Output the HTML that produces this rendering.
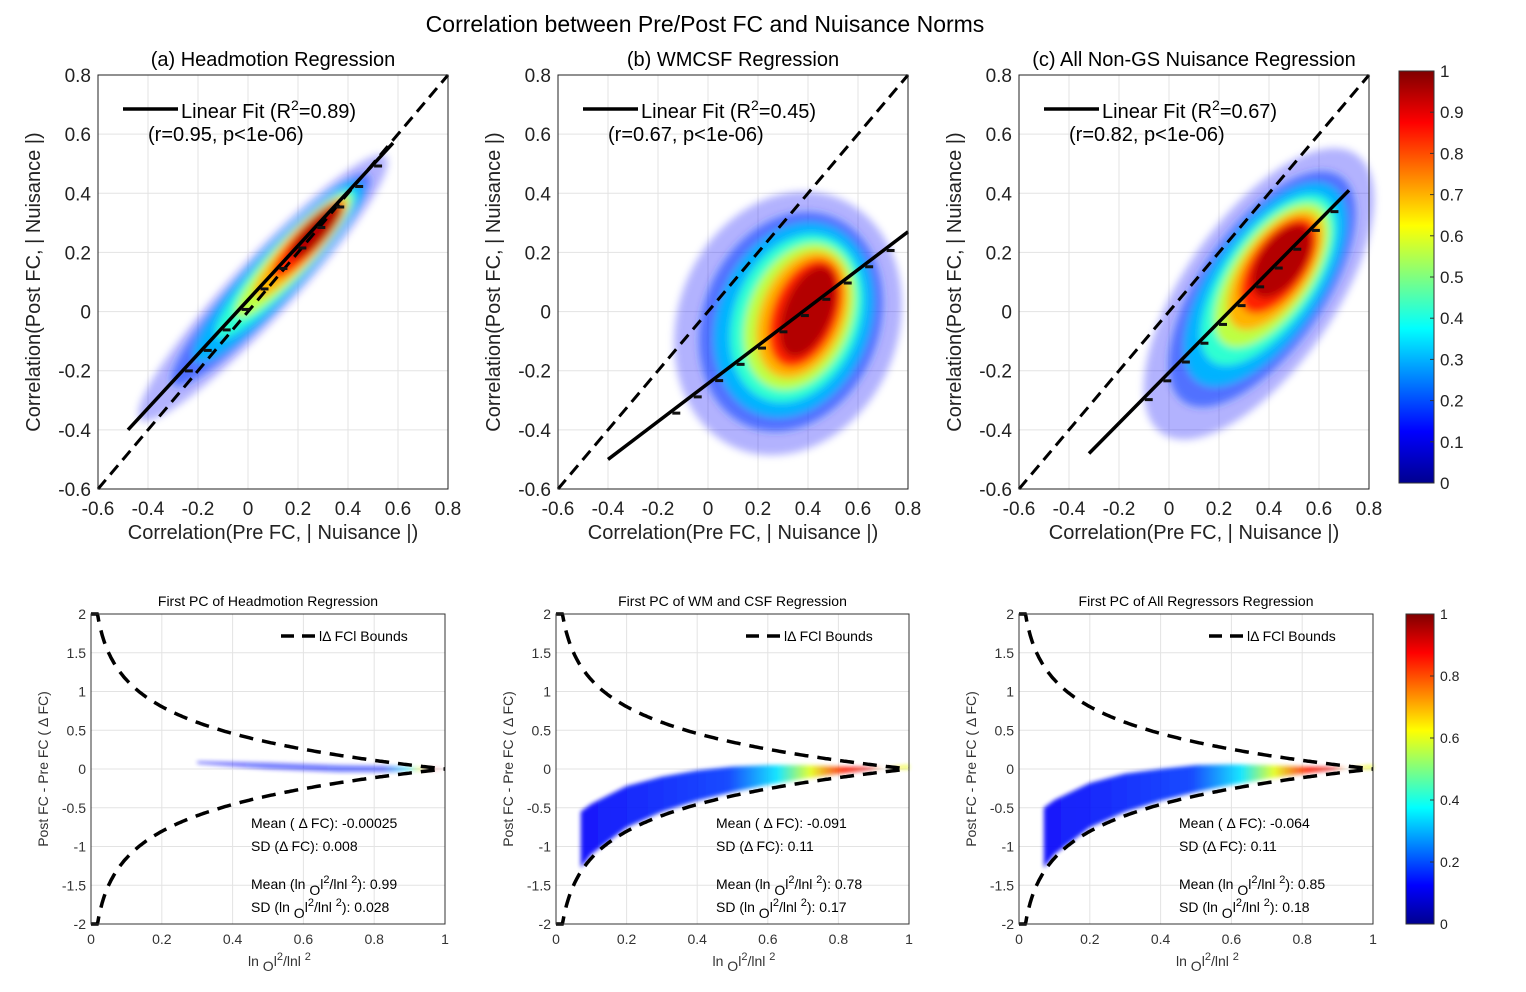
<!DOCTYPE html>
<html><head><meta charset="utf-8"><style>
body{margin:0;background:#fff;}
svg{display:block;font-family:"Liberation Sans",sans-serif;}
</style></head><body>
<svg id="fig" width="1526" height="992" viewBox="0 0 1526 992" xmlns="http://www.w3.org/2000/svg">
<defs>
<filter id="blur" x="-30%" y="-30%" width="160%" height="160%"><feGaussianBlur stdDeviation="4"/></filter>
<filter id="blur2" x="-30%" y="-30%" width="160%" height="160%"><feGaussianBlur stdDeviation="2"/></filter>
<linearGradient id="jetV" x1="0" y1="1" x2="0" y2="0">
<stop offset="0" stop-color="#00008f"/><stop offset="0.125" stop-color="#0000ff"/><stop offset="0.375" stop-color="#00ffff"/><stop offset="0.625" stop-color="#ffff00"/><stop offset="0.875" stop-color="#ff0000"/><stop offset="1" stop-color="#800000"/>
</linearGradient>
</defs>
<text x="705" y="32" font-size="23" text-anchor="middle">Correlation between Pre/Post FC and Nuisance Norms</text>
<g id="layer"></g>
</svg>
<script>
// ---------- data ----------
const topTitles = ["(a) Headmotion Regression","(b) WMCSF Regression","(c) All Non-GS Nuisance Regression"];
const r2Values = ["0.89","0.45","0.67"];
const rValues = ["0.95","0.67","0.82"];
const fitX0 = [-0.48,-0.40,-0.32];
const fitY0 = [-0.40,-0.50,-0.48];
const fitX1 = [0.58,0.80,0.72];
const fitY1 = [0.57,0.27,0.41];
const cloudCX = [0.06,0.32,0.36];
const cloudCY = [0.08,-0.04,0.06];
const coreCX = [0.27,0.40,0.45];
const coreCY = [0.27,0.00,0.17];
const topTicks = [-0.6,-0.4,-0.2,0,0.2,0.4,0.6,0.8];
const botTitles = ["First PC of Headmotion Regression","First PC of WM and CSF Regression","First PC of All Regressors Regression"];
const meanDFC = ["-0.00025","-0.091","-0.064"];
const sdDFC = ["0.008","0.11","0.11"];
const meanRatio = ["0.99","0.78","0.85"];
const sdRatio = ["0.028","0.17","0.18"];
const bandX = [0.07,0.1,0.2,0.3,0.4,0.5,0.6,0.7,0.8,0.9,1.0];
const bandTopB = [-0.55,-0.45,-0.22,-0.1,-0.02,0.03,0.05,0.05,0.03,0.02,0];
const bandTopC = [-0.5,-0.4,-0.18,-0.06,0.0,0.05,0.06,0.05,0.03,0.02,0];
const bandStartA = 0.3;
const botXTicks = [0,0.2,0.4,0.6,0.8,1];
const botYTicks = [-2,-1.5,-1,-0.5,0,0.5,1,1.5,2];
const cbTopTicks = [0,0.1,0.2,0.3,0.4,0.5,0.6,0.7,0.8,0.9,1];
const cbBotTicks = [0,0.2,0.4,0.6,0.8,1];

// ---------- layout ----------
const NS="http://www.w3.org/2000/svg";
const layer=document.getElementById('layer');
function mk(tag,attrs,parent){const e=document.createElementNS(NS,tag);for(const k in attrs)e.setAttribute(k,attrs[k]);(parent||layer).appendChild(e);return e;}
function jet(v){
  const st=[[0,[0,0,143]],[0.125,[0,0,255]],[0.375,[0,255,255]],[0.625,[255,255,0]],[0.875,[255,0,0]],[1,[128,0,0]]];
  for(let i=1;i<st.length;i++){if(v<=st[i][0]){const a=st[i-1],b=st[i],t=(v-a[0])/(b[0]-a[0]);
    return 'rgb('+a[1].map((c,j)=>Math.round(c+(b[1][j]-c)*t)).join(',')+')';}}
  return 'rgb(128,0,0)';
}
const topX0=[98,558,1019], topW=350, topY0=75, topH=414;
const cloudA=[[180,30,36,11],[135,110,48,24],[170,75,42,22]];
const cloudAng=[-47,-68,-55];
const levels=[0.12,0.18,0.3,0.42,0.56,0.7,0.84,0.95];
const levelOp=[0.3,0.55,1,1,1,1,1,1];

for(let p=0;p<3;p++){
  const g=mk('g',{});
  
  
  const x0=topX0[p];
  const sx=v=>x0+(v+0.6)/1.4*topW, sy=v=>topY0+topH-(v+0.6)/1.4*topH;
  topTicks.forEach(t=>{
    mk('line',{x1:sx(t),x2:sx(t),y1:topY0,y2:topY0+topH,stroke:'#e3e3e3','stroke-width':1},g);
    mk('line',{x1:x0,x2:x0+topW,y1:sy(t),y2:sy(t),stroke:'#e3e3e3','stroke-width':1},g);
    const xl=mk('text',{x:sx(t),y:topY0+topH+26,'font-size':19,'text-anchor':'middle',fill:'#222'},g);xl.textContent=(t===0?'0':t.toFixed(1));
    
    const yl=mk('text',{x:x0-7,y:sy(t)+7,'font-size':19,'text-anchor':'end',fill:'#222'},g);yl.textContent=(t===0?'0':t.toFixed(1));
    
  });
  const cg=mk('g',{filter:'url(#blur)'},g);
  const [oa,ob,ca,cb]=cloudA[p];
  levels.forEach((lv,i)=>{
    const t=i/(levels.length-1);
    const cx=sx(cloudCX[p]+(coreCX[p]-cloudCX[p])*t), cy=sy(cloudCY[p]+(coreCY[p]-cloudCY[p])*t);
    const a=oa+(ca-oa)*Math.pow(t,0.7), b=ob+(cb-ob)*Math.pow(t,0.7);
    const e=mk('ellipse',{cx:cx,cy:cy,rx:a,ry:b,fill:jet(lv),transform:`rotate(${cloudAng[p]} ${cx} ${cy})`,opacity:levelOp[i]},cg);
    
  });
  const d=mk('line',{x1:sx(-0.6),y1:sy(-0.6),x2:sx(0.8),y2:sy(0.8),stroke:'#000','stroke-width':3,'stroke-dasharray':'12 7'},g);
  
  const f=mk('line',{x1:sx(fitX0[p]),y1:sy(fitY0[p]),x2:sx(fitX1[p]),y2:sy(fitY1[p]),stroke:'#000','stroke-width':3.5},g);
  
  const slope=(fitY1[p]-fitY0[p])/(fitX1[p]-fitX0[p]);
  for(let k=3;k<14;k++){const xv=fitX0[p]+(fitX1[p]-fitX0[p])*k/14;const yv=fitY0[p]+slope*(xv-fitX0[p]);
    const s=mk('rect',{x:sx(xv),y:sy(yv)+1,width:8,height:3,fill:'#111'},g);}
  mk('rect',{x:x0,y:topY0,width:topW,height:topH,fill:'none',stroke:'#222','stroke-width':1},g);
  const tt=mk('text',{x:x0+topW/2,y:66,'font-size':20,'text-anchor':'middle'},g);tt.textContent=topTitles[p];
  
  const lg=mk('line',{x1:x0+25,x2:x0+80,y1:109,y2:109,stroke:'#000','stroke-width':3.5},g);
  
  const l1=mk('text',{x:x0+83,y:118,'font-size':20},g);
  l1.innerHTML='Linear Fit (R<tspan dy="-8" font-size="14">2</tspan><tspan dy="8">='+r2Values[p]+')</tspan>';
  
  const l2=mk('text',{x:x0+50,y:141,'font-size':20},g);l2.textContent='(r='+rValues[p]+', p<1e-06)';
  
  const xt=mk('text',{x:x0+topW/2,y:539,'font-size':20,'text-anchor':'middle',fill:'#222'},g);xt.textContent='Correlation(Pre FC, | Nuisance |)';
  
  const yt=mk('text',{x:0,y:0,'font-size':20,'text-anchor':'middle',fill:'#222',transform:`translate(${x0-58},${topY0+topH/2}) rotate(-90)`},g);yt.textContent='Correlation(Post FC, | Nuisance |)';
  
}

// ---------- bottom ----------
const botX0=[91,556,1019], botW=[354,353,354], botY0=614, botH=310;
const bound=x=>Math.min(2,-0.5*Math.log(Math.max(x,1e-4)));
for(let p=0;p<3;p++){
  const g=mk('g',{});
  
  
  const x0=botX0[p], W=botW[p];
  const sx=v=>x0+v*W, sy=v=>botY0+botH/2-v*botH/4;
  botXTicks.forEach(t=>{
    mk('line',{x1:sx(t),x2:sx(t),y1:botY0,y2:botY0+botH,stroke:'#e3e3e3'},g);
    const l=mk('text',{x:sx(t),y:botY0+botH+20,'font-size':14,'text-anchor':'middle',fill:'#333'},g);l.textContent=String(t);
    
  });
  botYTicks.forEach(t=>{
    mk('line',{x1:x0,x2:x0+W,y1:sy(t),y2:sy(t),stroke:'#e3e3e3'},g);
    const l=mk('text',{x:x0-5,y:sy(t)+5,'font-size':14,'text-anchor':'end',fill:'#333'},g);l.textContent=String(t);
    
  });
  const grad=mk('linearGradient',{id:'bg'+p,x1:0,x2:1,y1:0,y2:0},document.querySelector('defs'));
  const stops=p===0?[[0,0.12],[0.75,0.15],[0.85,0.35],[0.9,0.6],[0.95,0.9],[1,0.9]]:[[0,0.12],[0.45,0.18],[0.6,0.35],[0.7,0.6],[0.8,0.85],[0.88,0.9],[0.95,0.65],[1,0.6]];
  stops.forEach(s=>mk('stop',{offset:s[0],'stop-color':jet(s[1])},grad));
  if(p===0){
    const xs=[bandStartA,0.5,0.7,0.85,1];
    const up=[0.1,0.08,0.05,0.04,0], lo=[0.07,0.0,-0.04,-0.04,0];
    let d='M'+xs.map((x,i)=>sx(x)+','+sy(up[i])).join('L')+'L'+xs.slice().reverse().map((x,i)=>sx(x)+','+sy(lo[xs.length-1-i])).join('L')+'Z';
    const b=mk('path',{d:d,fill:'url(#bg0)',opacity:0.55,filter:'url(#blur2)'},g);
  } else {
    const top=p===1?bandTopB:bandTopC;
    let d='M'+bandX.map((x,i)=>sx(x)+','+sy(top[i])).join('L');
    for(let i=bandX.length-1;i>=0;i--){const x=bandX[i];d+='L'+sx(x)+','+sy(-bound(x)+0.05);}
    d+='Z';
    const b=mk('path',{d:d,fill:'url(#bg'+p+')',filter:'url(#blur2)',opacity:0.9},g);
  }
  let du='',dl='';
  for(let i=0;i<=200;i++){const x=Math.pow(i/200,1.6);const y=bound(x);du+=(i?'L':'M')+sx(x).toFixed(1)+','+sy(y).toFixed(1);dl+=(i?'L':'M')+sx(x).toFixed(1)+','+sy(-y).toFixed(1);}
  const bu=mk('path',{d:du,fill:'none',stroke:'#000','stroke-width':3.5,'stroke-dasharray':'14 9'},g);
  const bl=mk('path',{d:dl,fill:'none',stroke:'#000','stroke-width':3.5,'stroke-dasharray':'14 9'},g);
  mk('rect',{x:x0,y:botY0,width:W,height:botH,fill:'none',stroke:'#333'},g);
  const tt=mk('text',{x:x0+W/2,y:606,'font-size':14,'text-anchor':'middle'},g);tt.textContent=botTitles[p];
  
  const lg=mk('line',{x1:x0+190,x2:x0+227,y1:636,y2:636,stroke:'#000','stroke-width':3.5,'stroke-dasharray':'13 8'},g);
  
  const lt=mk('text',{x:x0+228,y:641,'font-size':14},g);lt.textContent='l\u0394 FCl Bounds';
  const s1=mk('text',{x:x0+160,y:828,'font-size':14},g);s1.textContent='Mean ( \u0394 FC): '+meanDFC[p];
  const s2=mk('text',{x:x0+160,y:851,'font-size':14},g);s2.textContent='SD (\u0394 FC): '+sdDFC[p];
  const s3=mk('text',{x:x0+160,y:889,'font-size':14},g);
  s3.innerHTML='Mean (ln <tspan dy="6">O</tspan><tspan dy="-6">l</tspan><tspan dy="-6" font-size="11">2</tspan><tspan dy="6">/lnl </tspan><tspan dy="-6" font-size="11">2</tspan><tspan dy="6">): '+meanRatio[p]+'</tspan>';
  
  const s4=mk('text',{x:x0+160,y:912,'font-size':14},g);
  s4.innerHTML='SD (ln <tspan dy="6">O</tspan><tspan dy="-6">l</tspan><tspan dy="-6" font-size="11">2</tspan><tspan dy="6">/lnl </tspan><tspan dy="-6" font-size="11">2</tspan><tspan dy="6">): '+sdRatio[p]+'</tspan>';
  
  const xt=mk('text',{x:x0+W/2-20,y:966,'font-size':14,fill:'#333'},g);
  xt.innerHTML='ln <tspan dy="5">O</tspan><tspan dy="-5">l</tspan><tspan dy="-6" font-size="11">2</tspan><tspan dy="6">/lnl </tspan><tspan dy="-6" font-size="11">2</tspan>';
  
  const yt=mk('text',{x:0,y:0,'font-size':14,'text-anchor':'middle',fill:'#333',transform:`translate(${x0-43},${botY0+botH/2}) rotate(-90)`},g);yt.textContent='Post FC - Pre FC ( \u0394 FC)';
  
}

// ---------- colorbars ----------
function colorbar(x,y,w,h,ticks,fs,name){
  const g=mk('g',{});
  
  
  mk('rect',{x:x,y:y,width:w,height:h,fill:'url(#jetV)',stroke:'#333'},g);
  ticks.forEach(t=>{const yy=y+h-t*h;
    mk('line',{x1:x+w-4,x2:x+w,y1:yy,y2:yy,stroke:'#333'},g);
    const l=mk('text',{x:x+w+6,y:yy+fs*0.35,'font-size':fs,fill:'#222'},g);l.textContent=String(t);
    });
}
colorbar(1399,71,35,412,cbTopTicks,17,'colorbar-top');
colorbar(1406,614,28,310,cbBotTicks,14,'colorbar-bottom');
</script>
</body></html>
